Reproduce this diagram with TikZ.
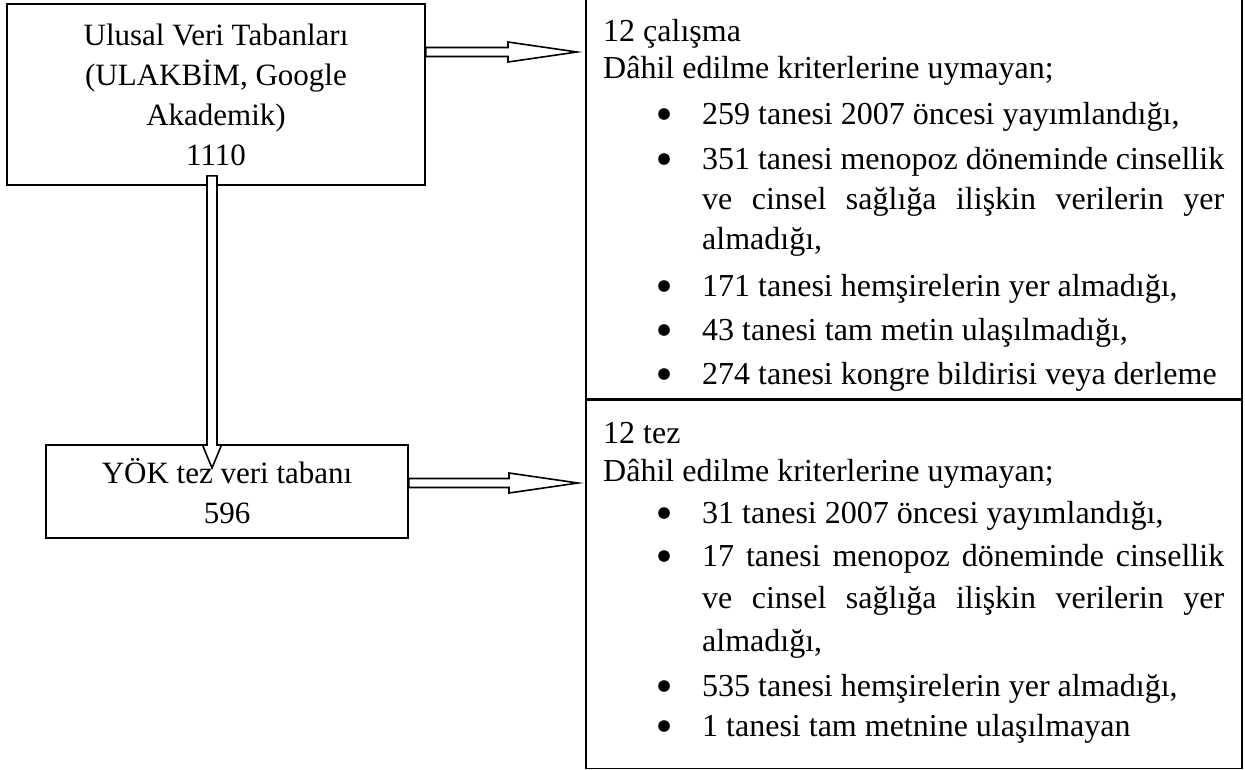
\documentclass[tikz,border=0pt]{standalone}
\usepackage{fontspec}
\setmainfont{Liberation Serif}
\usetikzlibrary{calc}

\tikzset{
  boxframe/.style={draw, line width=1.6pt, inner sep=0pt,
    font=\fontsize{31}{40}\selectfont},
  linetext/.style={anchor=base west, inner sep=0pt,
    font=\fontsize{32}{40}\selectfont},
  blockarrow/.style={draw, line width=1.6pt, fill=white, line join=miter},
}

\begin{document}
\begin{tikzpicture}[x=1pt, y=-1pt]
  \useasboundingbox (0,0) rectangle (1245,769);

  % right-hand boxes
  \node[boxframe, minimum width=656, minimum height=402, anchor=north west]
    (calismabox) at (585,-4) {};
  \node[boxframe, minimum width=656, minimum height=368, anchor=north west]
    (tezbox) at (calismabox.south west) {};

  % left-hand boxes
  \node[boxframe, minimum width=418, minimum height=181, align=center]
    (ulusal) at (216,94.5)
    {Ulusal Veri Tabanları\\(ULAKBİM, Google\\Akademik)\\1110};
  \node[boxframe, minimum width=362, minimum height=93, align=center]
    (yok) at (227,491.5) {YÖK tez veri tabanı\\596};

  % first list
  \node[linetext] (c1) at (603,41) {12 çalışma};
  \node[linetext] (c2) at (603,78) {Dâhil edilme kriterlerine uymayan;};
  \node[linetext] (c3) at (702,124) {259 tanesi 2007 öncesi yayımlandığı,};
  \node[linetext] (c4) at (702,169)
    {\makebox[522pt][s]{351 tanesi menopoz döneminde cinsellik}};
  \node[linetext] (c5) at (702,209)
    {\makebox[522pt][s]{ve cinsel sağlığa ilişkin verilerin yer}};
  \node[linetext] (c6) at (702,249) {almadığı,};
  \node[linetext] (c7) at (702,296) {171 tanesi hemşirelerin yer almadığı,};
  \node[linetext] (c8) at (702,340) {43 tanesi tam metin ulaşılmadığı,};
  \node[linetext] (c9) at (702,384) {274 tanesi kongre bildirisi veya derleme};

  % second list
  \node[linetext] (t1) at (603,443) {12 tez};
  \node[linetext] (t2) at (603,481) {Dâhil edilme kriterlerine uymayan;};
  \node[linetext] (t3) at (702,523) {31 tanesi 2007 öncesi yayımlandığı,};
  \node[linetext] (t4) at (702,566)
    {\makebox[522pt][s]{17 tanesi menopoz döneminde cinsellik}};
  \node[linetext] (t5) at (702,608)
    {\makebox[522pt][s]{ve cinsel sağlığa ilişkin verilerin yer}};
  \node[linetext] (t6) at (702,651) {almadığı,};
  \node[linetext] (t7) at (702,696) {535 tanesi hemşirelerin yer almadığı,};
  \node[linetext] (t8) at (702,736) {1 tanesi tam metnine ulaşılmayan};

  % bullets
  \foreach \n in {c3,c4,c7,c8,c9,t3,t4,t7,t8}
    \fill ($(\n.base west)+(-38,-10)$) circle (5.8);

  % block arrows
  \coordinate (tipA) at (577,52);
  \coordinate (tipB) at (578,483);
  \coordinate (tipC) at (212,468);

  \draw[blockarrow] let \p1=(ulusal.east |- tipA), \p2=(tipA) in
    (\x1,\y1+4.5pt) -- (\x2-69pt,\y1+4.5pt) -- (\x2-69pt,\y1+10pt) -- (\p2)
    -- (\x2-69pt,\y1-10pt) -- (\x2-69pt,\y1-4.5pt) -- (\x1,\y1-4.5pt) -- cycle;
  \draw[blockarrow] let \p1=(yok.east |- tipB), \p2=(tipB) in
    (\x1,\y1+4.5pt) -- (\x2-69pt,\y1+4.5pt) -- (\x2-69pt,\y1+10pt) -- (\p2)
    -- (\x2-69pt,\y1-10pt) -- (\x2-69pt,\y1-4.5pt) -- (\x1,\y1-4.5pt) -- cycle;
  \draw[blockarrow] let \p1=(tipC |- ulusal.south), \p2=(tipC) in
    (\x1-5pt,\y1+10pt) -- (\x1-5pt,\y2+23pt) -- (\x1-9.5pt,\y2+23pt) -- (\p2)
    -- (\x1+9.5pt,\y2+23pt) -- (\x1+5pt,\y2+23pt) -- (\x1+5pt,\y1+10pt) -- cycle;
\end{tikzpicture}
\end{document}
